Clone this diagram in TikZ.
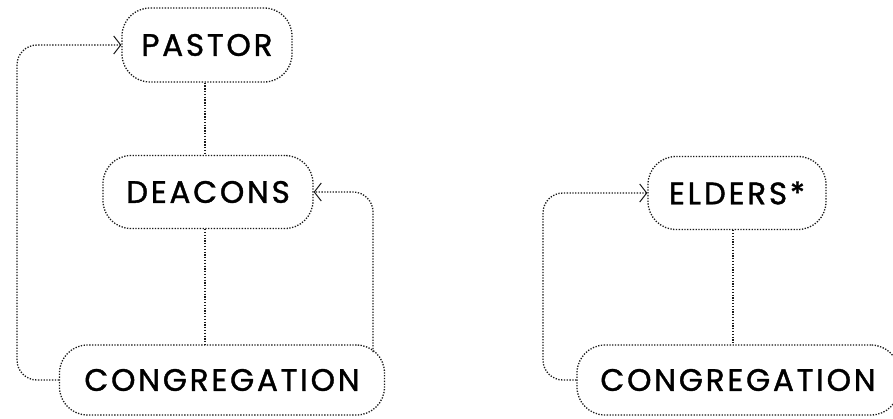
\documentclass[tikz,border=0pt]{standalone}
\usepackage{fontspec}
\setmainfont{Poppins}
\newfontfamily\boxfont{Poppins}[FakeBold=1.2, LetterSpace=9]
\usetikzlibrary{arrows.meta,positioning}

\tikzset{
  box/.style={draw=black!90, line width=1.3pt, dash pattern=on 1.3pt off 1.5pt,
    rounded corners=28pt, inner sep=0pt, font=\boxfont\fontsize{31}{34}\selectfont},
  link/.style={draw=black!90, line width=1.3pt, dash pattern=on 1.3pt off 1.5pt,
    rounded corners=20pt},
  tip/.style={-{Straight Barb[length=7pt,width=18pt,line width=1pt]}}
}

\begin{document}
\begin{tikzpicture}[x=1pt,y=-1pt]
\useasboundingbox (0,0) rectangle (893,418);

% left chart
\node[box, minimum width=170pt, minimum height=74pt] (pastor) at (207,45) {PASTOR};
\node[box, minimum width=210pt, minimum height=73pt] (deacons) at (208,192) {DEACONS};
\node[box, minimum width=325pt, minimum height=70pt] (cong) at (222,380) {CONGREGATION};

% right chart
\node[box, minimum width=178pt, minimum height=73pt] (elders) at (737,193) {ELDERS*};
\node[box, minimum width=322pt, minimum height=70pt] (congb) at (738,380) {CONGREGATION};

\coordinate (lft) at (17,0);
\coordinate (rgt) at (373,352);
\coordinate (lftb) at (543,0);

\draw[link] (pastor.south -| 205,0) -- (deacons.north -| 205,0);
\draw[link] (deacons.south -| 205,0) -- (cong.north -| 205,0);
\draw[link] (elders.south -| 733,0) -- (congb.north -| 733,0);

\draw[link,tip] (cong.west) -- (cong.west -| lft) |- (pastor.west);
\draw[link,tip] (rgt) |- (deacons.east);
\draw[link,tip] (congb.west) -- (congb.west -| lftb) |- (elders.west);

\end{tikzpicture}
\end{document}
